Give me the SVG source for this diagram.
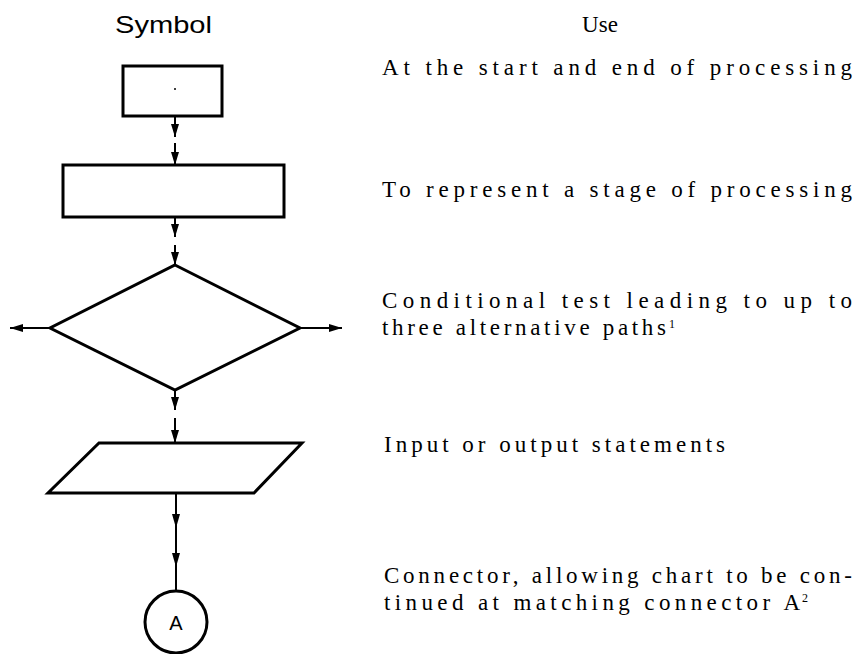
<svg xmlns="http://www.w3.org/2000/svg" width="860" height="654" viewBox="0 0 860 654">
<style>
.shape{fill:none;stroke:#000;stroke-width:3;stroke-linejoin:miter}
.conn{fill:none;stroke:#000;stroke-width:2}
.head{fill:#000;stroke:none}
.hdr{font-family:"Liberation Sans",Arial,sans-serif;font-size:24px;fill:#000}
.use{font-family:"Liberation Serif","Times New Roman",serif;font-size:23px;fill:#000}
.sup{font-family:"Liberation Serif","Times New Roman",serif;font-size:12px;fill:#000}
.lbl{font-family:"Liberation Sans",Arial,sans-serif;font-size:20px;fill:#000}
</style>
<defs>
<marker id="ah" viewBox="0 0 13 8" refX="13" refY="4" markerWidth="13" markerHeight="8" markerUnits="userSpaceOnUse" orient="auto">
<path d="M0,0 L13,4 L0,8 Z" fill="#000"/>
</marker>
</defs>
<rect width="860" height="654" fill="#fff"/>
<text class="hdr" x="115" y="33" textLength="97" lengthAdjust="spacingAndGlyphs">Symbol</text>
<text class="use" x="600" y="32" text-anchor="middle" font-size="24">Use</text>
<g id="terminal">
<rect class="shape" x="123" y="66" width="99" height="50"/>
<circle cx="175" cy="89" r="1" fill="#000"/>
</g>
<g id="process">
<rect class="shape" x="63" y="165" width="221" height="52"/>
</g>
<g id="decision">
<polygon class="shape" points="175,265 300,328 175,390 50,328"/>
</g>
<g id="io">
<polygon class="shape" points="99,443 302,443 254,493 48,493"/>
</g>
<g id="connectorA">
<circle class="shape" cx="176" cy="622" r="31" stroke-width="2.5"/>
<text class="lbl" x="176" y="630" text-anchor="middle">A</text>
</g>
<g id="connectors">
<line class="conn" x1="175" y1="116" x2="175" y2="137" marker-end="url(#ah)"/>
<line class="conn" x1="175" y1="143" x2="175" y2="165" marker-end="url(#ah)"/>
<line class="conn" x1="175" y1="217" x2="175" y2="237" marker-end="url(#ah)"/>
<line class="conn" x1="175" y1="245" x2="175" y2="265" marker-end="url(#ah)"/>
<line class="conn" x1="50" y1="328" x2="10" y2="328" marker-end="url(#ah)"/>
<line class="conn" x1="300" y1="328" x2="342" y2="328" marker-end="url(#ah)"/>
<line class="conn" x1="175" y1="390" x2="175" y2="410" marker-end="url(#ah)"/>
<line class="conn" x1="175" y1="418" x2="175" y2="443" marker-end="url(#ah)"/>
<line class="conn" x1="176" y1="493" x2="176" y2="591"/>
<path class="head" d="M172,514 L180,514 L176,528 Z"/>
<path class="head" d="M172,553 L180,553 L176,567 Z"/>
</g>
<g id="uses">
<text class="use" x="382" y="75" textLength="470" lengthAdjust="spacing">At the start and end of processing</text>
<text class="use" x="382" y="197" textLength="470" lengthAdjust="spacing">To represent a stage of processing</text>
<text class="use" x="382" y="308" textLength="470" lengthAdjust="spacing">Conditional test leading to up to</text>
<text class="use" x="382" y="335" textLength="284" lengthAdjust="spacing">three alternative paths</text>
<text class="sup" x="669" y="328">1</text>
<text class="use" x="384" y="452" textLength="341" lengthAdjust="spacing">Input or output statements</text>
<text class="use" x="384" y="583" textLength="468" lengthAdjust="spacing">Connector, allowing chart to be con-</text>
<text class="use" x="384" y="610" textLength="416" lengthAdjust="spacing">tinued at matching connector A</text>
<text class="sup" x="802" y="602">2</text>
</g>
</svg>
